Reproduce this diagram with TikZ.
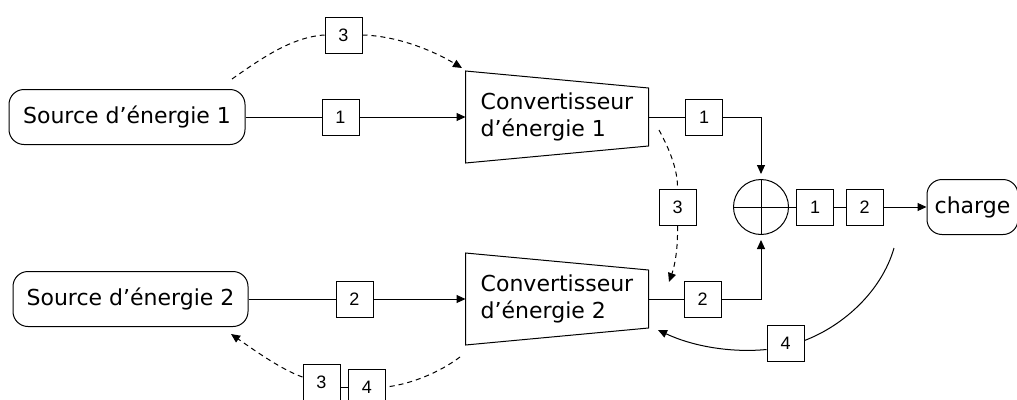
\documentclass[tikz,border=0pt]{standalone}
\usepackage{fontspec}
\setmainfont{DejaVu Sans}
\newfontfamily\numfont{Liberation Sans}
\usetikzlibrary{arrows.meta,calc}

\begin{document}
\begin{tikzpicture}[x=1pt,y=-1pt,
  line width=1pt,
  >={Triangle[length=9pt,width=8pt]},
  numbox/.style={draw,fill=white,minimum width=37pt,minimum height=36pt,inner sep=0pt,
    font=\numfont\fontsize{18}{20}\selectfont},
  term/.style={draw,rounded corners=15pt,minimum height=55pt,inner sep=0pt,
    font=\fontsize{22}{27}\selectfont},
  convtext/.style={align=left,inner sep=0pt,minimum width=182pt,minimum height=91pt,
    font=\fontsize{22}{27}\selectfont},
  flow/.style={dash pattern=on 5pt off 4pt},
  sumjoint/.style={draw,circle,minimum size=55pt,inner sep=0pt}
]
\clip (0,0) rectangle (1017,399);
\fill[white] (0,0) rectangle (1017,399);

% sources and load
\node[term,minimum width=236pt] (src1) at (127,117) {Source d’énergie 1};
\node[term,minimum width=235pt] (src2) at (130.5,299) {Source d’énergie 2};
\node[term,minimum width=91pt] (charge) at (972.5,207) {charge};

% converters (trapezoids drawn around their text nodes)
\node[convtext] (conv1) at (557,117) {Convertisseur\\d’énergie 1};
\node[convtext] (conv2) at (557,299) {Convertisseur\\d’énergie 2};
\foreach \c in {conv1,conv2}
  \draw (\c.north west) -- ($(\c.north east)+(0,17)$) -- ($(\c.south east)+(0,-17)$)
        -- (\c.south west) -- cycle;

% summing junction
\node[sumjoint] (sum) at (761,207) {};
\draw (sum.north) -- (sum.south) (sum.west) -- (sum.east);

% numbered tags
\node[numbox] (b1a) at (340.5,117) {1};
\node[numbox] (b2a) at (354.5,299) {2};
\node[numbox] (b1b) at (704,117) {1};
\node[numbox] (b2b) at (702.5,299) {2};
\node[numbox] (b1c) at (815,207) {1};
\node[numbox] (b2c) at (864.5,207) {2};
\node[numbox] (b3a) at (343.5,35) {3};
\node[numbox] (b3b) at (677.5,207.5) {3};
\node[numbox] (b4a) at (785.5,343.5) {4};
\node[numbox] (b3c) at (321.5,382) {3};
\node[numbox] (b4c) at (367,387) {4};

% free ends of the curved links
\coordinate (s3a) at (232,79);
\coordinate (t3a) at (462,68);
\coordinate (s3b) at (659,130);
\coordinate (t3b) at (669,282);
\coordinate (s4) at (894,248);
\coordinate (t4) at (658,330);
\coordinate (s34) at (460,357);
\coordinate (t34) at (231,334);

% main power paths
\draw (src1) -- (b1a);
\draw[->] (b1a) -- (conv1);
\draw (src2) -- (b2a);
\draw[->] (b2a) -- (conv2);
\draw (conv1) -- (b1b);
\draw[->,shorten >=5pt] (b1b.east) -| (sum.north);
\draw (conv2) -- (b2b);
\draw[->,shorten >=5pt] (b2b.east) -| (sum.south);
\draw (sum) -- (b1c);
\draw (b1c) -- (b2c);
\draw[->] (b2c) -- (charge);

% link 3 (dashed)
\draw[flow] (s3a) .. controls (262,58) and (292,37) .. (b3a.west);
\draw[flow,->] (b3a.east) .. controls (397,36) and (432,50) .. (t3a);
\draw[flow] (s3b) .. controls (671,152) and (678,172) .. (b3b.north);
\draw[flow,->] (b3b.south) .. controls (678,248) and (675,265) .. (t3b);

% link 4 (solid)
\draw (s4) .. controls (882,290) and (845,325) .. ($(b4a.east)+(0,-3)$);
\draw[->] ($(b4a.west)+(0,6)$) .. controls (730,353) and (692,346) .. (t4);

% links 3 and 4 back to source 2 (dashed)
\draw[flow] (s34) .. controls (440,372) and (412,384) .. (b4c.east);
\draw (b4c.west -| b3c.east) -- (b4c.west);
\draw[flow,->] ($(b3c.west)+(0,-5)$) .. controls (282,370) and (254,350) .. (t34);
\end{tikzpicture}
\end{document}
